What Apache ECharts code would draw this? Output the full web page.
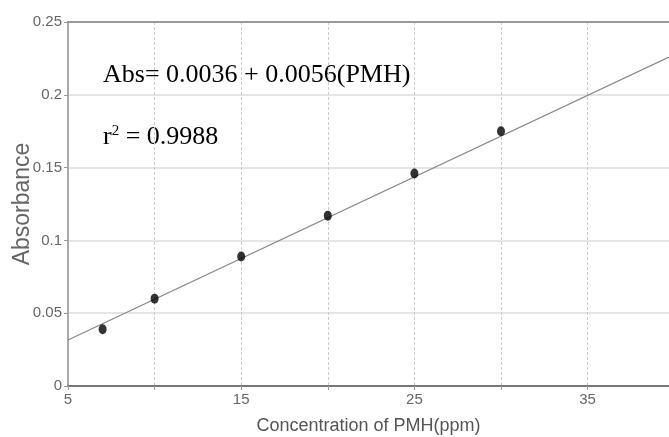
<!DOCTYPE html>
<html>
<head>
<meta charset="utf-8">
<script src="https://cdn.jsdelivr.net/npm/echarts@6/dist/echarts.min.js"></script>
<style>
  html, body { margin: 0; padding: 0; background: #fff; }
  #main { width: 669px; height: 437px; }
</style>
</head>
<body>
<div id="main"></div>
<script>
// measured points (ppm, absorbance)
var conc = [7, 10, 15, 20, 25, 30]
var absorb = [0.039, 0.06, 0.089, 0.117, 0.146, 0.175]

// fitted line end points
var fitX = [5, 39.7]
var fitY = [0.0316, 0.2259]

var xShown = [5, 15, 25, 35]

var eqText = 'Abs= 0.0036 + 0.0056(PMH)'
var r2Value = '0.9988'

var pts = []
for (var i = 0; i < conc.length; i++) {
    pts.push([conc[i], absorb[i]])
}
var fit = []
for (var j = 0; j < fitX.length; j++) {
    fit.push([fitX[j], fitY[j]])
}

var labelFont = {
    color: '#666',
    fontFamily: 'Liberation Sans',
    fontSize: 15
}

var option = {
    animation: false,
    backgroundColor: '#fff',
    grid: {
        left: 68,
        top: 22,
        right: 0,
        height: 364,
        outerBoundsMode: 'none'
    },
    xAxis: [{
        type: 'value',
        min: 5,
        max: 39.7,
        interval: 5,
        name: 'Concentration of PMH(ppm)',
        nameLocation: 'middle',
        nameGap: 31,
        nameMoveOverlap: false,
        nameTextStyle: {
            color: '#555',
            fontFamily: 'Liberation Sans',
            fontSize: 18
        },
        axisLine: { lineStyle: { color: '#777', width: 2 } },
        axisTick: { show: true, length: 4, lineStyle: { color: '#999' } },
        axisLabel: Object.assign({
            margin: 6,
            showMaxLabel: false,
            formatter: function (v) {
                return xShown.indexOf(v) > -1 ? String(v) : ''
            }
        }, labelFont),
        splitLine: {
            show: true,
            lineStyle: { color: '#ccc', type: [3, 2], width: 1 }
        }
    }, {
        // top border of the plot
        type: 'value',
        position: 'top',
        min: 5,
        max: 39.7,
        axisLine: { show: true, lineStyle: { color: '#999', width: 2 } },
        axisTick: { show: false },
        axisLabel: { show: false },
        splitLine: { show: false }
    }],
    yAxis: {
        type: 'value',
        min: 0,
        max: 0.25,
        interval: 0.05,
        name: 'Absorbance',
        nameLocation: 'middle',
        nameGap: 34,
        nameMoveOverlap: false,
        nameTextStyle: {
            color: '#666',
            fontFamily: 'Liberation Sans',
            fontSize: 23
        },
        axisLine: { show: true, lineStyle: { color: '#aaa', width: 2 } },
        axisTick: { show: true, length: 4, lineStyle: { color: '#999' } },
        axisLabel: Object.assign({ margin: 6 }, labelFont),
        splitLine: {
            show: true,
            lineStyle: { color: '#ddd', width: 1.5 }
        }
    },
    graphic: [
        {
            type: 'text',
            left: 103,
            top: 62,
            style: {
                text: eqText,
                font: '26px "Liberation Serif"',
                fill: '#000'
            }
        },
        {
            type: 'text',
            left: 103,
            top: 124,
            style: {
                text: 'r{sup|2} = ' + r2Value,
                font: '26px "Liberation Serif"',
                fill: '#000',
                rich: {
                    sup: {
                        font: '15px "Liberation Serif"',
                        verticalAlign: 'top',
                        padding: [0, 0, 10, 0]
                    }
                }
            }
        }
    ],
    series: [
        {
            name: 'fit',
            type: 'line',
            data: fit,
            showSymbol: false,
            silent: true,
            lineStyle: { color: '#888', width: 1.3 },
            z: 2
        },
        {
            name: 'data',
            type: 'scatter',
            data: pts,
            symbol: 'circle',
            symbolSize: [8, 10],
            itemStyle: { color: '#000' },
            z: 3
        }
    ]
}

var myChart = echarts.init(document.getElementById('main'))
myChart.setOption(option)
</script>
</body>
</html>
